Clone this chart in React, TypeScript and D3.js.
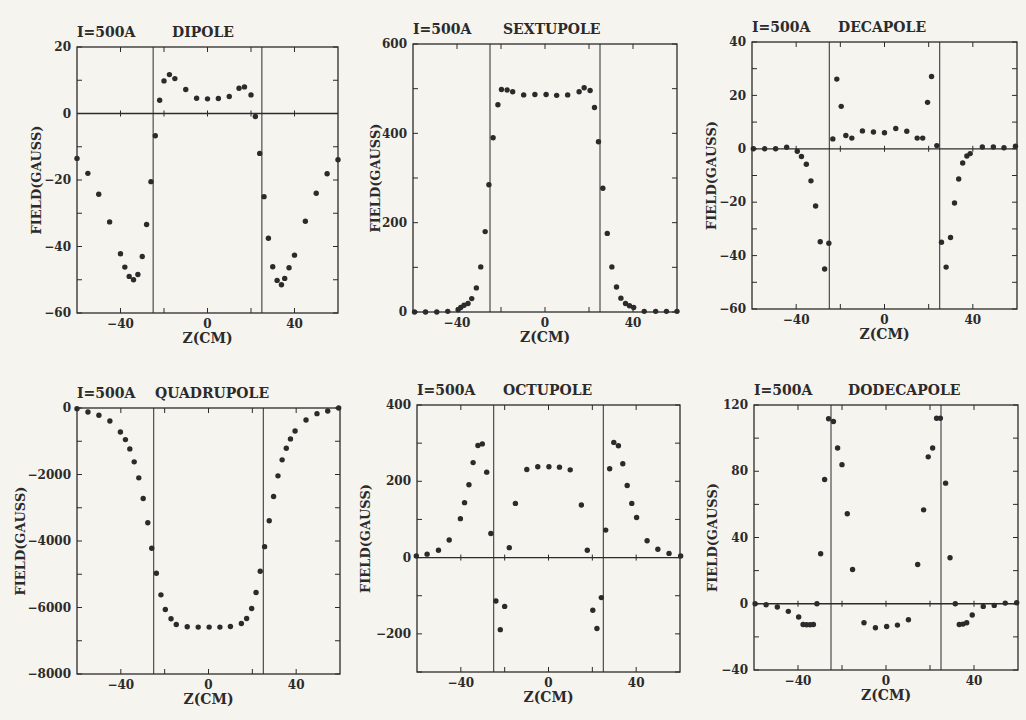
import React from 'react';
import * as d3 from 'd3';

// field profiles along the magnet axis, I = 500 A
const dipoleZ = [-60, -55, -50, -45, -40, -38, -36, -34, -32, -30, -28, -26, -24, -22, -20, -17.5, -15, -10, -5, 0, 5, 10, 14.5, 17, 20, 22, 24, 26, 28, 30, 32, 34, 35.5, 37.5, 40, 45, 50, 55, 60];
const dipoleB = [-13.5, -18, -24.3, -32.6, -42.2, -46.2, -49, -50, -48.4, -43, -33.4, -20.5, -6.7, 4, 9.8, 11.7, 10.5, 7.2, 4.6, 4.4, 4.5, 5.1, 7.6, 8, 5.6, -0.9, -12, -25, -37.5, -46.1, -50.2, -51.5, -49.6, -46.4, -42.6, -32.4, -24, -18.1, -13.9];

const sextupoleZ = [-59.3, -54.3, -49.2, -44.2, -39.5, -38.3, -36.8, -35, -33.3, -31.2, -29.2, -27.2, -25.5, -23.6, -21.4, -19.8, -17.2, -14.7, -9.7, -4.6, 0.5, 5.3, 10.3, 15.5, 17.8, 20.5, 22.5, 24.3, 26.3, 28.3, 30.4, 32.5, 34.5, 36.6, 38.4, 40.3, 45.1, 50.3, 55.2, 60];
const sextupoleB = [0, 0, 0, 1.5, 5, 10, 15, 19, 30, 54, 101, 180, 285, 390, 464, 498, 497, 493, 486, 487, 487, 485, 486, 493, 502, 496, 458, 381, 277, 176, 101, 56, 31, 19, 14, 10, 1.5, 1.5, 1.5, 1.5];

const decapoleZ = [-59.4, -54.3, -49.3, -44.3, -39.5, -37.6, -35.4, -33.3, -31.2, -29.1, -27.1, -25.2, -23.4, -21.6, -19.6, -17.5, -14.8, -10, -5, 0, 5.1, 10.1, 14.8, 17.3, 19.5, 21.3, 23.7, 25.8, 27.9, 29.9, 31.7, 33.6, 35.4, 37.3, 38.8, 44.3, 49.3, 54.1, 59.3];
const decapoleB = [0, 0, 0, 0.6, -0.9, -2.9, -5.8, -12, -21.4, -34.8, -45, -35.4, 3.7, 26.1, 15.9, 5, 4, 6.7, 6.3, 6, 7.6, 6.6, 4, 4, 17.4, 27.1, 1.2, -35, -44.3, -33.2, -20.3, -11.3, -5.3, -2.7, -1.8, 0.7, 0.7, 0.4, 1];

const quadrupoleZ = [-60, -55, -50, -45, -40.2, -37.9, -35.9, -33.9, -31.8, -29.8, -27.7, -25.9, -23.8, -21.7, -19.7, -17.1, -14.7, -9.7, -4.7, 0.3, 5.2, 10, 15, 17.4, 19.7, 21.7, 23.6, 25.6, 27.7, 29.7, 31.7, 33.6, 35.5, 37.4, 39.5, 44.5, 49.5, 54.4, 59.4];
const quadrupoleB = [-20, -120, -220, -390, -720, -950, -1230, -1620, -2100, -2720, -3450, -4220, -4970, -5620, -6060, -6340, -6510, -6580, -6590, -6590, -6590, -6570, -6480, -6330, -6030, -5550, -4910, -4170, -3390, -2660, -2040, -1560, -1210, -930, -690, -360, -170, -90, 0];

const octupoleZ = [-60.3, -55.4, -50.2, -45.3, -40.2, -38.3, -36.3, -34.4, -32.2, -30.2, -28.2, -26.3, -24, -22, -20, -17.9, -15.1, -9.9, -4.9, 0.2, 5, 9.9, 15, 17.7, 20.2, 22.1, 24.1, 26.1, 27.9, 29.8, 31.9, 33.9, 35.9, 38, 40.2, 45, 49.9, 55, 60.3];
const octupoleB = [4, 9, 19, 46, 102, 144, 191, 249, 294, 298, 224, 63, -114, -189, -128, 26, 142, 231, 238, 238, 237, 230, 138, 19, -138, -186, -105, 72, 233, 302, 293, 246, 189, 142, 105, 44, 22, 11, 4];

const dodecapoleZ = [-59.5, -54.5, -49.4, -44.4, -39.7, -37.7, -36.1, -34.5, -33, -31.4, -29.7, -27.9, -26.1, -23.9, -22, -20, -17.6, -15.2, -10, -4.8, 0.3, 5.2, 10.2, 14.4, 17.1, 19.2, 21.2, 23, 24.7, 27.1, 29.1, 31.5, 33.3, 35, 36.7, 39.2, 44.2, 49.2, 54.2, 59.4];
const dodecapoleB = [0, -0.6, -2, -4.6, -8, -12.5, -12.7, -12.7, -12.5, 0, 30.2, 75, 111.7, 110, 94, 84, 54.3, 20.7, -11.5, -14.5, -13.7, -12.9, -9.7, 23.7, 56.7, 88.7, 94, 112, 112, 72.8, 27.8, 0, -12.5, -12.3, -11.5, -6.8, -1.6, -1, 0.4, 0.6];

const current = 'I=500A';
const zTickLabels = [-40, 0, 40];
const magnetEnds = [-25, 25];

const W = 1026;
const H = 720;
const INK = '#2b2b2b';
const FONT = '"DejaVu Serif", serif';

// box = [left, top, right, bottom] in page pixels
const panels = [
  { name: 'DIPOLE', z: dipoleZ, b: dipoleB, domain: [-60, 20], major: 20, minor: 10, box: [77, 47, 338, 313], nameDx: 95, ylabDx: 41 },
  { name: 'SEXTUPOLE', z: sextupoleZ, b: sextupoleB, domain: [0, 600], major: 200, minor: 100, box: [413, 44, 677, 312], nameDx: 90, ylabDx: 38 },
  { name: 'DECAPOLE', z: decapoleZ, b: decapoleB, domain: [-60, 40], major: 20, minor: 10, box: [752, 42, 1017, 309], nameDx: 86, ylabDx: 41 },
  { name: 'QUADRUPOLE', z: quadrupoleZ, b: quadrupoleB, domain: [-8000, 0], major: 2000, minor: 1000, box: [77, 408, 340, 674], nameDx: 78, ylabDx: 57 },
  { name: 'OCTUPOLE', z: octupoleZ, b: octupoleB, domain: [-300, 400], major: 200, minor: 100, box: [417, 405, 680, 672], nameDx: 86, ylabDx: 52 },
  { name: 'DODECAPOLE', z: dodecapoleZ, b: dodecapoleB, domain: [-40, 120], major: 40, minor: 20, box: [754, 405, 1018, 670], nameDx: 94, ylabDx: 42 },
];

const fmt = (v: number) => (v < 0 ? '\u2212' + Math.abs(v) : String(v));

function Panel({ p }: { p: any }) {
  const [l, t, r, bt] = p.box;
  const x = d3.scaleLinear().domain([-60, 60]).range([l, r]);
  const y = d3.scaleLinear().domain(p.domain).range([bt, t]);
  const lo = p.domain[0], hi = p.domain[1];
  const minorTicks = d3.range(Math.ceil(lo / p.minor) * p.minor, hi + 1e-9, p.minor);
  const majorTicks = d3.range(Math.ceil(lo / p.major) * p.major, hi + 1e-9, p.major);
  const xTicks = d3.range(-40, 41, 20);
  const tk = 5;
  const hasZero = lo < 0 && hi > 0;

  return (
    <g fontFamily={FONT} fill={INK}>
      <text x={l} y={t - 10} fontSize={14} fontWeight="bold">{current}</text>
      <text x={l + p.nameDx} y={t - 10} fontSize={14} fontWeight="bold">{p.name}</text>

      <rect x={l} y={t} width={r - l} height={bt - t} fill="none" stroke={INK} strokeWidth={1.3} />

      {magnetEnds.map(v => (
        <line key={v} x1={x(v)} x2={x(v)} y1={t} y2={bt} stroke={INK} strokeWidth={1} />
      ))}

      {hasZero && <line x1={l} x2={r} y1={y(0)} y2={y(0)} stroke={INK} strokeWidth={1.3} />}
      {hasZero && xTicks.map(v => (
        <line key={'z' + v} x1={x(v)} x2={x(v)} y1={y(0) - 3} y2={y(0) + 3} stroke={INK} strokeWidth={1} />
      ))}

      {minorTicks.map(v => (
        <g key={'y' + v}>
          <line x1={l} x2={l + tk} y1={y(v)} y2={y(v)} stroke={INK} strokeWidth={1} />
          <line x1={r - tk} x2={r} y1={y(v)} y2={y(v)} stroke={INK} strokeWidth={1} />
        </g>
      ))}
      {xTicks.map(v => (
        <g key={'x' + v}>
          <line x1={x(v)} x2={x(v)} y1={bt} y2={bt - tk} stroke={INK} strokeWidth={1} />
          <line x1={x(v)} x2={x(v)} y1={t} y2={t + tk} stroke={INK} strokeWidth={1} />
        </g>
      ))}

      {majorTicks.map(v => (
        <text key={'yl' + v} x={l - 6} y={y(v)} dy="0.35em" textAnchor="end" fontSize={12} fontWeight="bold">
          {fmt(v)}
        </text>
      ))}
      {zTickLabels.map(v => (
        <text key={'xl' + v} x={x(v)} y={bt + 15} textAnchor="middle" fontSize={12} fontWeight="bold">
          {fmt(v)}
        </text>
      ))}

      <text x={(l + r) / 2} y={bt + 30} textAnchor="middle" fontSize={14} fontWeight="bold">Z(CM)</text>
      <text transform={`translate(${l - p.ylabDx},${(t + bt) / 2}) rotate(-90)`} textAnchor="middle" dy="0.35em" fontSize={13} fontWeight="bold">
        FIELD(GAUSS)
      </text>

      {p.z.map((zv: number, i: number) => (
        <circle key={i} cx={x(zv)} cy={y(p.b[i])} r={2.7} fill={INK} />
      ))}
    </g>
  );
}

export default function App() {
  return (
    <svg width={W} height={H} style={{ position: 'absolute', left: 0, top: 0, background: '#f6f4ef' }}>
      <rect width={W} height={H} fill="#f6f4ef" />
      {panels.map(p => <Panel key={p.name} p={p} />)}
    </svg>
  );
}
